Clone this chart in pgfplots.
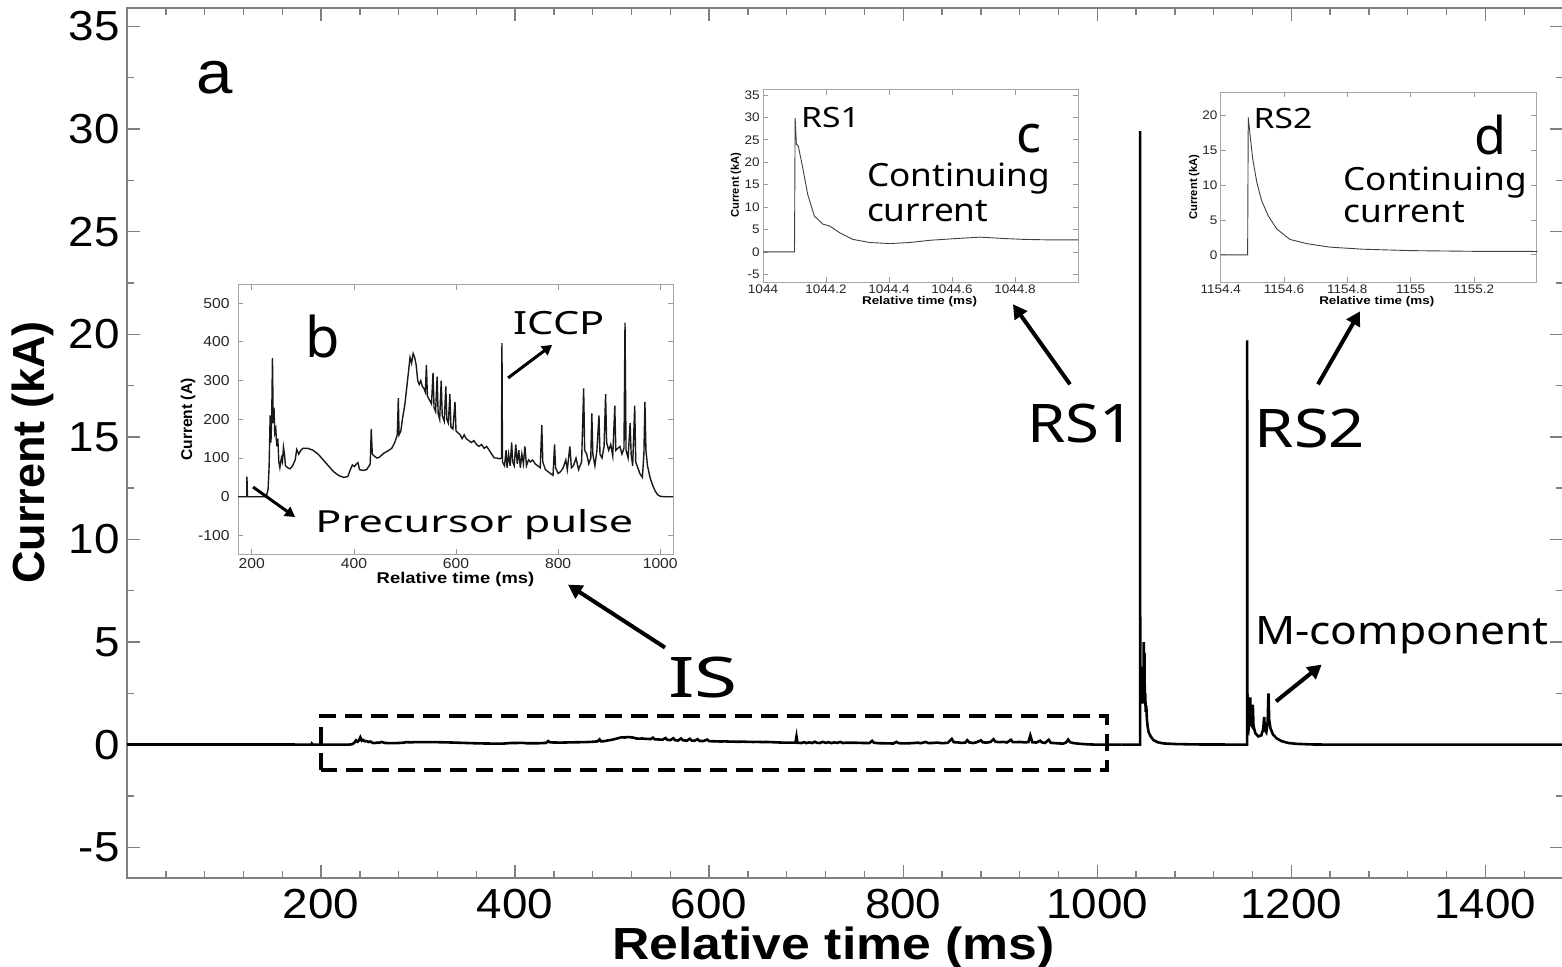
\documentclass[border=0pt]{standalone}
\usepackage{fontspec}
\setmainfont{Liberation Sans}[FakeStretch=1.09]
\newfontfamily\lblfont{Liberation Sans}
\newfontfamily\notefont{Noto Sans}
\usepackage{graphicx}
\usepackage{pgfplots}
\pgfplotsset{compat=1.18}
\usepackage{pgfplotstable}
\usetikzlibrary{arrows.meta}

\newcommand{\fs}[1]{\fontsize{#1}{#1}\selectfont}
\newcommand{\sx}[2]{\scalebox{#1}[1]{#2}}

\pgfplotsset{/pgf/number format/assume math mode=true,
  /pgf/number format/1000 sep={}}

% Initial stage current (A), relative time in ms
\pgfplotstableread{
t I
173 0
190 0
190.5 52
191.5 0
225 0
229 3
232 20
234 80
236 210
237.5 140
239 200
240.5 358
242 190
243.5 230
245 165
247 175
249 130
251 150
253 90
255 75
258 100
260 90
262 128
264 110
266 80
270 75
275 72
280 80
285 95
288 122
292 110
296 120
300 125
310 125
320 120
330 110
340 95
350 80
360 65
370 55
380 50
388 52
393 70
397 82
401 78
405 85
408 88
411 70
418 68
425 70
430 80
432 85
434 175
436 110
440 105
445 100
450 102
458 112
466 118
474 125
480 140
485 160
487 255
488.5 160
492 170
495 200
500 240
505 300
510 360
513 345
516 370
519 360
522 340
525 300
528 290
531 300
534 285
537 280
540 270
542 340
544 260
548 250
552 240
555 320
557 230
560 220
563 310
565 215
568 200
571 300
573 210
577 195
580 285
582 200
585 190
588 265
590 180
594 175
598 245
600 170
604 165
608 160
612 150
616 160
620 150
625 145
630 140
635 145
640 135
645 130
650 135
655 125
660 130
665 120
670 110
675 100
680 100
685 98
689 100
690 397
691 90
695 80
698 120
700 75
703 110
706 80
709 140
711 90
714 80
717 135
720 85
723 120
726 75
729 110
732 85
735 130
738 80
742 95
746 90
750 95
755 85
760 80
765 75
768 185
770 90
775 70
780 65
785 60
790 55
793 135
795 75
800 60
805 65
810 75
815 95
818 70
823 130
826 75
830 80
835 100
840 70
846 90
850 280
852 120
856 110
860 85
864 100
866 215
868 110
872 80
876 120
880 210
882 110
886 100
890 130
893 265
895 140
899 120
903 135
907 105
911 235
913 120
917 125
921 130
925 110
929 125
931 450
933 120
937 100
941 190
943 110
946 80
950 235
952 90
956 75
960 60
965 50
968 110
970 245
972 120
975 80
980 50
985 30
990 15
995 5
1000 1
1010 0
1025 0
}\isdata

% Return strokes and M-components (kA)
\pgfplotstableread{
t I
1025 0
1044.0 0
1044.1 0
1044.102 29.9
1044.16 9
1044.3 3.5
1044.6 2.9
1045.0 2.6
1045.5 3.2
1045.8 2.1
1046.3 2.6
1046.8 2.0
1047.2 3.8
1047.5 2.2
1047.9 5.0
1048.2 2.4
1048.6 4.5
1049.0 2.1
1049.4 2.5
1049.9 1.6
1050.5 1.9
1051.2 1.2
1052 0.85
1053 0.6
1055 0.4
1058 0.22
1062 0.12
1068 0.06
1080 0.03
1100 0.01
1154.3 0
1154.485 0
1154.487 19.7
1154.6 3.5
1155 1.0
1156 0.8
1157 1.3
1157.6 2.3
1158.3 1.0
1159.6 0.9
1160.3 1.95
1161 0.9
1163 0.55
1166 0.4
1169 0.45
1171 0.75
1172 1.35
1172.8 0.7
1174.2 0.6
1175.6 1.1
1176.4 2.5
1177.2 1.2
1178.5 0.8
1181 0.5
1185 0.3
1190 0.17
1197 0.08
1205 0.04
1220 0.01
1240 0
1480 0
}\rsdata

% RS1 waveform, time after 1044 ms
\pgfplotstableread{
dt I
0 0
0.1 0
0.102 29.9
0.106 24
0.112 23.6
0.126 18.8
0.142 12.8
0.163 8.0
0.19 6.2
0.211 5.8
0.243 4.3
0.285 2.8
0.339 2.1
0.403 1.87
0.466 2.1
0.53 2.6
0.616 3.0
0.69 3.3
0.764 3.0
0.828 2.8
0.9 2.7
1.0 2.7
}\rsonedata

% RS2 waveform, time after 1154.4 ms
\pgfplotstableread{
dt I
0 0
0.085 0
0.087 19.7
0.093 17.1
0.101 13.8
0.114 10.4
0.129 7.8
0.15 5.6
0.177 3.7
0.219 2.2
0.272 1.6
0.345 1.1
0.45 0.8
0.6 0.6
0.8 0.5
1.0 0.48
}\rstwodata

\pgfplotsset{
  inset/.style={
    scale only axis, anchor=south west, clip=false,
    axis background/.style={fill=white},
    axis line style={black!35, line width=0.5pt},
    tick align=inside, major tick length=2.5pt,
    every tick/.style={black!40, line width=0.4pt},
    tick label style={black!85},
  },
}
\tikzset{
  arr/.style={-{Triangle[length=7pt,width=7.5pt]}, line width=2pt},
  sarr/.style={-{Triangle[length=5pt,width=5.5pt]}, line width=1.5pt},
}

\begin{document}
\begin{tikzpicture}
% ---------- main record ----------
\begin{axis}[
  name=main, at={(0pt,0pt)}, anchor=south west,
  scale only axis, width=718pt, height=435pt,
  xmin=0, xmax=1480, ymin=-6.5, ymax=35.9,
  xtick={200,400,...,1400}, minor xtick={0,40,...,1480},
  ytick={-5,0,...,35}, minor ytick={-5,-2.5,...,35},
  tick align=inside, major tick length=6.5pt, minor tick length=3.5pt,
  axis line style={black!50, line width=0.7pt},
  every tick/.style={black!50, line width=0.7pt},
  tick label style={font=\fs{21}, black},
  xticklabel style={inner sep=0pt, anchor=north, yshift=-5.5pt},
  yticklabel style={inner sep=0pt, anchor=east, xshift=-3.5pt},
  xlabel={\sx{1.15}{Relative time (ms)}},
  ylabel={Current (kA)},
  label style={font=\lblfont\bfseries\fs{22.5}, inner sep=0pt},
  xlabel style={at={(axis description cs:0.492,0)}, anchor=base, yshift=-40.5pt},
  ylabel style={at={(axis description cs:-0.0658,0.489)}, anchor=center},
  clip=false,
]
\addplot[black, line width=1.3pt] coordinates {(0,0) (173,0)};
\addplot[black, line width=1.3pt] table[x=t, y expr=\thisrow{I}/1000] {\isdata};
\addplot[black, line width=1.3pt] table[x=t, y=I] {\rsdata};

\draw[line width=2pt, dash pattern=on 8.5pt off 4.5pt]
  (axis cs:200,-1.22) rectangle (axis cs:1010,1.41);

\node[font=\fs{30}] at (axis cs:90.7,32.5) {a};
\node[font=\notefont\fs{28}] at (axis cs:593.6,3.27) {\sx{1.4}{IS}};
\node[font=\notefont\fs{26.6}] at (axis cs:983.2,15.66) {\sx{1.16}{RS1}};
\node[font=\notefont\fs{26.6}] at (axis cs:1219.2,15.41) {\sx{1.19}{RS2}};
\node[font=\notefont\fs{19.6}, anchor=base] at (axis cs:1314,4.88) {\sx{1.13}{M-component}};

\draw[arr] (axis cs:554.5,4.73) -- (axis cs:454.5,7.80);
\draw[arr] (axis cs:971.9,17.56) -- (axis cs:913.1,21.46);
\draw[arr] (axis cs:1227.5,17.56) -- (axis cs:1270.8,21.12);
\draw[arr] (axis cs:1184.2,2.11) -- (axis cs:1231.3,3.90);
\end{axis}

% ---------- inset b: initial stage ----------
\begin{axis}[inset, at={(55.5pt,162pt)}, width=217.5pt, height=134.5pt,
  xmin=173, xmax=1025, ymin=-148, ymax=547,
  xtick={200,400,...,1000}, ytick={-100,0,...,500},
  tick label style={font=\fs{7.2}},
  xticklabel style={inner sep=0pt, anchor=north, yshift=-2pt},
  yticklabel style={inner sep=0pt, anchor=east, xshift=-4pt},
  xlabel={\sx{1.18}{Relative time (ms)}}, ylabel={Current (A)},
  label style={font=\lblfont\bfseries\fs{7.8}, inner sep=0pt},
  xlabel style={at={(axis description cs:0.5,0)}, anchor=base, yshift=-14.5pt},
  ylabel style={at={(axis description cs:-0.115,0.5)}, anchor=center},
]
\addplot[black!90, line width=0.7pt] table[x=t, y=I] {\isdata};
\node[font=\notefont\fs{28}, anchor=base west, inner sep=0pt] at (axis cs:304.4,360) {b};
\node[font=\notefont\fs{16}, anchor=base west, inner sep=0pt] at (axis cs:712.5,418) {\sx{1.3}{ICCP}};
\node[font=\notefont\fs{15.2}, anchor=base west, inner sep=0pt] at (axis cs:324,-92) {\sx{1.42}{Precursor pulse}};
\draw[sarr] (axis cs:702,306.9) -- (axis cs:788.2,392.2);
\draw[sarr] (axis cs:202.5,25) -- (axis cs:284.8,-52.5);
\end{axis}

% ---------- inset c: first return stroke ----------
\begin{axis}[inset, at={(318pt,298pt)}, width=157.5pt, height=96pt,
  xmin=0, xmax=1.0, ymin=-6.7, ymax=36.1,
  xtick={0,0.2,0.4,0.6,0.8}, xticklabels={1044,1044.2,1044.4,1044.6,1044.8},
  ytick={-5,0,...,35},
  tick label style={font=\fs{6.2}},
  xticklabel style={inner sep=0pt, anchor=north, yshift=-1.3pt},
  yticklabel style={inner sep=0pt, anchor=east, xshift=-1.5pt},
  xlabel={\sx{1.2}{Relative time (ms)}}, ylabel={Current (kA)},
  label style={font=\lblfont\bfseries\fs{5.6}, inner sep=0pt},
  xlabel style={at={(axis description cs:0.497,0)}, anchor=base, yshift=-11.2pt},
  ylabel style={at={(axis description cs:-0.0857,0.505)}, anchor=center},
]
\addplot[black!75, line width=0.45pt] table[x=dt, y=I] {\rsonedata};
\node[font=\notefont\fs{14}, anchor=base west, inner sep=0pt] at (axis cs:0.12,27.8) {\sx{1.2}{RS1}};
\node[font=\notefont\fs{26}, anchor=base west, inner sep=0pt] at (axis cs:0.804,22.2) {c};
\node[font=\notefont\fs{16}, anchor=base west, inner sep=0pt] at (axis cs:0.329,14.67) {\sx{1.1}{Continuing}};
\node[font=\notefont\fs{16}, anchor=base west, inner sep=0pt] at (axis cs:0.329,6.76) {\sx{1.1}{current}};
\end{axis}

% ---------- inset d: second return stroke ----------
\begin{axis}[inset, at={(546.85pt,298pt)}, width=157.65pt, height=95pt,
  xmin=0, xmax=0.996, ymin=-3.9, ymax=23.35,
  xtick={0,0.2,0.4,0.6,0.8}, xticklabels={1154.4,1154.6,1154.8,1155,1155.2},
  ytick={0,5,...,20},
  tick label style={font=\fs{6.2}},
  xticklabel style={inner sep=0pt, anchor=north, yshift=-1.3pt},
  yticklabel style={inner sep=0pt, anchor=east, xshift=-1.5pt},
  xlabel={\sx{1.2}{Relative time (ms)}}, ylabel={Current (kA)},
  label style={font=\lblfont\bfseries\fs{5.6}, inner sep=0pt},
  xlabel style={at={(axis description cs:0.495,0)}, anchor=base, yshift=-11pt},
  ylabel style={at={(axis description cs:-0.0844,0.5)}, anchor=center},
]
\addplot[black!75, line width=0.45pt] table[x=dt, y=I] {\rstwodata};
\node[font=\notefont\fs{14}, anchor=base west, inner sep=0pt] at (axis cs:0.103,18.1) {\sx{1.2}{RS2}};
\node[font=\notefont\fs{26}, anchor=base west, inner sep=0pt] at (axis cs:0.8,14.4) {d};
\node[font=\notefont\fs{16}, anchor=base west, inner sep=0pt] at (axis cs:0.387,9.24) {\sx{1.1}{Continuing}};
\node[font=\notefont\fs{16}, anchor=base west, inner sep=0pt] at (axis cs:0.387,4.6) {\sx{1.1}{current}};
\end{axis}

\pgfresetboundingbox
\useasboundingbox (-63.5pt,-44pt) rectangle (717.5pt,439pt);
\end{tikzpicture}
\end{document}
